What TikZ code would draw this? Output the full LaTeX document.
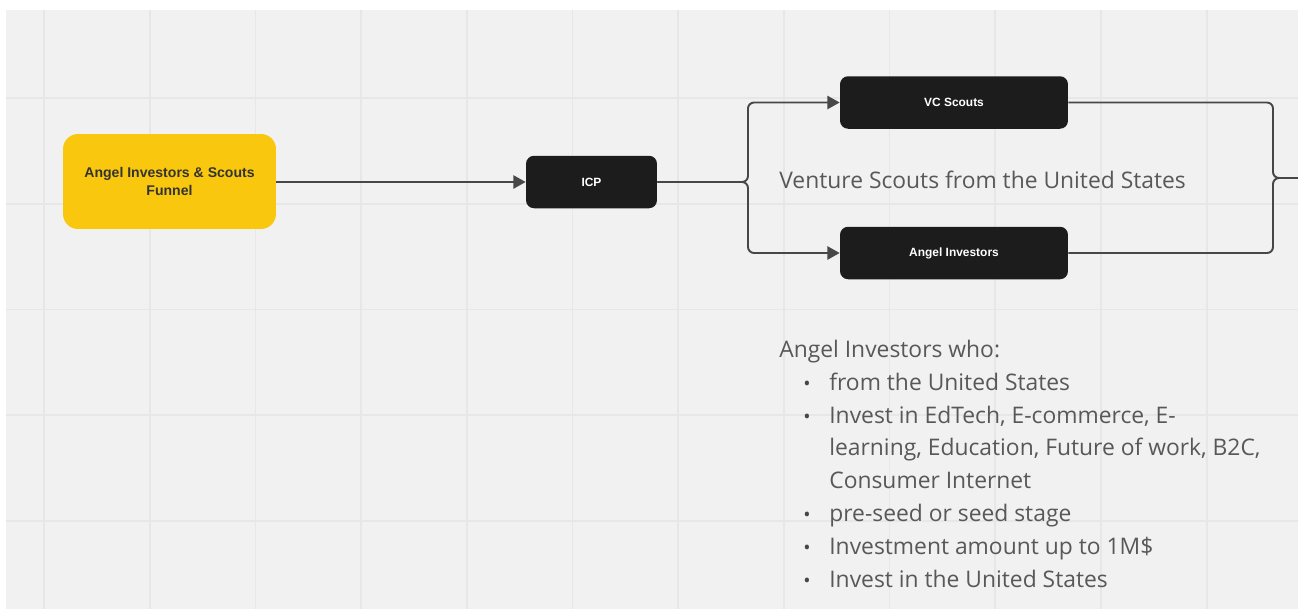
\documentclass[tikz,border=0pt]{standalone}
\usepackage{fontspec}
\setmainfont{Open Sans}
\newfontfamily\boxfont{Liberation Sans}
\usetikzlibrary{positioning, arrows.meta, calc}

\definecolor{boardgray}{HTML}{F1F1F1}
\definecolor{gridgray}{HTML}{E7E7E7}
\definecolor{funnelyellow}{HTML}{F9C80E}
\definecolor{boxblack}{HTML}{1C1C1C}
\definecolor{linkgray}{HTML}{474747}
\definecolor{notegray}{HTML}{585858}

\tikzset{
  funnel/.style={fill=funnelyellow, rounded corners=0.3cm, minimum width=4.26cm, minimum height=1.9cm,
    align=center, font=\boxfont\bfseries\fontsize{8}{10}\selectfont, text=black!80},
  stage/.style={fill=boxblack, rounded corners=0.16cm, minimum height=1.05cm,
    font=\boxfont\bfseries\fontsize{6.8}{8}\selectfont, text=white},
  link/.style={draw=linkgray, line width=1.1pt, rounded corners=0.12cm},
  tip/.style={-{Triangle[length=7pt,width=7.5pt]}},
  gridline/.style={draw=gridgray, line width=1pt},
  note/.style={text=notegray, font=\fontsize{13}{16}\selectfont, inner sep=0pt, anchor=base west},
  dot/.style={text=notegray!80!black, font=\fontsize{11}{11}\selectfont, inner sep=0pt, anchor=base},
}

\begin{document}
\begin{tikzpicture}[x=0.02cm, y=-0.02cm]
  \useasboundingbox (0,0) rectangle (1298,609);

  % Board
  \fill[white] (0,0) rectangle (1298,609);
  \fill[boardgray] (6,10) rectangle (1298,609);
  \foreach \k in {0,...,11}
    \draw[gridline] (44+105.7*\k,10) -- (44+105.7*\k,609);
  \foreach \k in {0,...,4}
    \draw[gridline] (6,98+105.7*\k) -- (1298,98+105.7*\k);

  % Boxes
  \node[funnel] (funnel) at (169.5,181.5) {Angel Investors \& Scouts\\Funnel};
  \node[stage, minimum width=2.62cm] (icp) at (591.5,182) {ICP};
  \node[stage, minimum width=4.56cm] (vc) at (954,102.5) {VC Scouts};
  \node[stage, minimum width=4.56cm] (angel) at (954,253) {Angel Investors};

  % Connectors
  \coordinate (split) at (748,182);
  \coordinate (merge) at (1273,178);
  \coordinate (exit) at (1298,178);
  \draw[link, tip] (funnel.east |- icp.west) -- (icp.west);
  \draw[link, tip] (icp.east) -- (split) |- (vc.west);
  \draw[link, tip] (icp.east) -- (split) |- (angel.west);
  \draw[link] (vc.east) -| (merge) -- (exit);
  \draw[link] (angel.east) -| (merge) -- (exit);

  % Notes
  \node[note] (venture) at (779,188) {Venture Scouts from the United States};
  \node[note] (who) at (779,357) {Angel Investors who:};
  \foreach \y [count=\i] in {390,423,521,554,587}
    \node[dot] (dot\i) at (807,\y) {•};
  \foreach \y/\txt [count=\i] in {390/{from the United States},
      423/{Invest in EdTech, E-commerce, E-},
      455/{learning, Education, Future of work, B2C,},
      488/{Consumer Internet},
      521/{pre-seed or seed stage},
      554/{Investment amount up to 1M\$},
      587/{Invest in the United States}}
    \node[note] (line\i) at (829,\y) {\txt};
\end{tikzpicture}
\end{document}
